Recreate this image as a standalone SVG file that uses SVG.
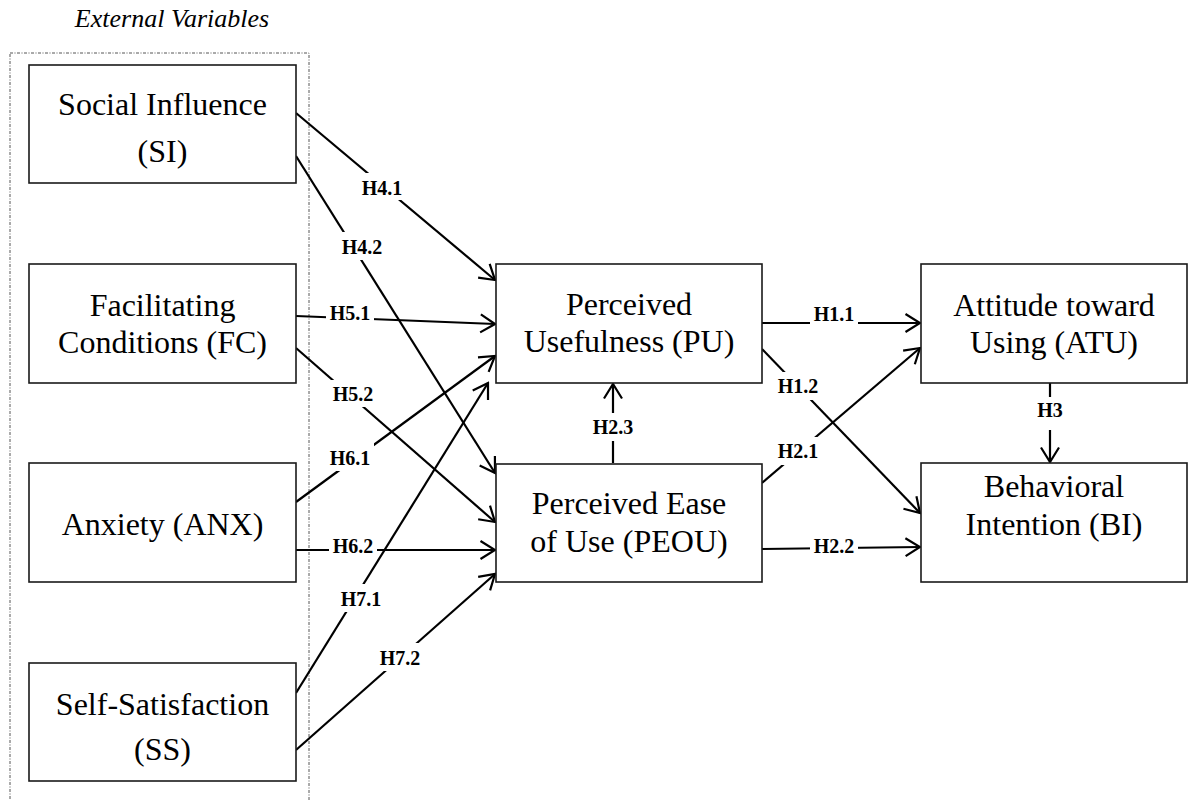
<svg xmlns="http://www.w3.org/2000/svg" width="1193" height="800" viewBox="0 0 1193 800">
<style>
  .box { fill: #fff; stroke: #1a1a1a; stroke-width: 1.6; }
  .nt { font-family: "Liberation Serif", "Times New Roman", serif; font-size: 32px; fill: #000; text-anchor: middle; }
  .lbl { font-family: "Liberation Serif", "Times New Roman", serif; font-size: 20px; font-weight: bold; fill: #000; text-anchor: middle; }
  .edge { stroke: #000; stroke-width: 2.2; fill: none; }
  .arr { marker-end: url(#ah); }
  .lbg { fill: #fff; }
  .title { font-family: "Liberation Serif", "Times New Roman", serif; font-size: 26px; font-style: italic; fill: #000; text-anchor: middle; }
</style>
<defs>
  <marker id="ah" markerUnits="userSpaceOnUse" markerWidth="18" markerHeight="22" viewBox="0 0 18 22" refX="16" refY="11" orient="auto">
    <path d="M1.5,2 L16,11 L1.5,20" fill="none" stroke="#000" stroke-width="2.2"/>
  </marker>
</defs>
<rect width="1193" height="800" fill="#fff"/>
<text class="title" x="172" y="27">External Variables</text>
<rect id="external-group" x="10" y="53" width="299" height="760" fill="none" stroke="#555" stroke-width="1" stroke-dasharray="3 1.5 1 1.5"/>

<g id="connectors">
  <line class="edge arr" x1="296" y1="113" x2="495" y2="280"/>
  <line class="edge arr" x1="296" y1="156" x2="495" y2="473"/>
  <line class="edge arr" x1="296" y1="316" x2="495" y2="324"/>
  <line class="edge arr" x1="296" y1="348" x2="495" y2="522"/>
  <line class="edge arr" x1="296" y1="502" x2="495" y2="356"/>
  <line class="edge arr" x1="296" y1="550" x2="495" y2="550"/>
  <line class="edge arr" x1="296" y1="693" x2="488" y2="383"/>
  <line class="edge arr" x1="296" y1="750" x2="495" y2="574"/>
  <line class="edge arr" x1="613" y1="463" x2="613" y2="384"/>
  <line class="edge arr" x1="762" y1="323" x2="920" y2="323"/>
  <line class="edge arr" x1="762" y1="349" x2="920" y2="513"/>
  <line class="edge arr" x1="762" y1="483" x2="920" y2="348"/>
  <line class="edge arr" x1="762" y1="549" x2="920" y2="547"/>
  <line class="edge arr" x1="1050" y1="383" x2="1050" y2="462"/>
</g>

<g id="labels">
  <rect class="lbg" x="359" y="173" width="47" height="27"/><text class="lbl" x="382" y="195">H4.1</text>
  <rect class="lbg" x="338" y="232" width="48" height="28"/><text class="lbl" x="362" y="254">H4.2</text>
  <rect class="lbg" x="326" y="302" width="48" height="24"/><text class="lbl" x="350" y="320">H5.1</text>
  <rect class="lbg" x="329" y="380" width="48" height="27"/><text class="lbl" x="353" y="401">H5.2</text>
  <rect class="lbg" x="326" y="443" width="48" height="28"/><text class="lbl" x="350" y="465">H6.1</text>
  <rect class="lbg" x="329" y="535" width="48" height="24"/><text class="lbl" x="353" y="553">H6.2</text>
  <rect class="lbg" x="337" y="584" width="48" height="28"/><text class="lbl" x="361" y="606">H7.1</text>
  <rect class="lbg" x="376" y="643" width="48" height="28"/><text class="lbl" x="400" y="665">H7.2</text>
  <rect class="lbg" x="589" y="413" width="48" height="28"/><text class="lbl" x="613" y="434">H2.3</text>
  <rect class="lbg" x="810" y="303" width="48" height="24"/><text class="lbl" x="834" y="321">H1.1</text>
  <rect class="lbg" x="774" y="372" width="48" height="28"/><text class="lbl" x="798" y="393">H1.2</text>
  <rect class="lbg" x="774" y="437" width="48" height="28"/><text class="lbl" x="798" y="458">H2.1</text>
  <rect class="lbg" x="810" y="535" width="48" height="24"/><text class="lbl" x="834" y="553">H2.2</text>
  <rect class="lbg" x="1036" y="397" width="28" height="33"/><text class="lbl" x="1050" y="417">H3</text>
</g>

<g id="SI">
  <rect class="box" x="29" y="65" width="267" height="118"/>
  <text class="nt" x="162.5" y="115">Social Influence</text>
  <text class="nt" x="162.5" y="162">(SI)</text>
</g>
<g id="FC">
  <rect class="box" x="29" y="264" width="267" height="119"/>
  <text class="nt" x="162.5" y="316">Facilitating</text>
  <text class="nt" x="162.5" y="353">Conditions (FC)</text>
</g>
<g id="ANX">
  <rect class="box" x="29" y="463" width="267" height="119"/>
  <text class="nt" x="162.5" y="535">Anxiety (ANX)</text>
</g>
<g id="SS">
  <rect class="box" x="29" y="663" width="267" height="118"/>
  <text class="nt" x="162.5" y="715">Self-Satisfaction</text>
  <text class="nt" x="162.5" y="760">(SS)</text>
</g>
<g id="PU">
  <rect class="box" x="496" y="264" width="266" height="119"/>
  <text class="nt" x="629" y="315">Perceived</text>
  <text class="nt" x="629" y="352">Usefulness (PU)</text>
</g>
<g id="PEOU">
  <rect class="box" x="496" y="464" width="266" height="118"/>
  <text class="nt" x="629" y="514">Perceived Ease</text>
  <text class="nt" x="629" y="552">of Use (PEOU)</text>
</g>
<g id="ATU">
  <rect class="box" x="921" y="264" width="266" height="119"/>
  <text class="nt" x="1054" y="316">Attitude toward</text>
  <text class="nt" x="1054" y="353">Using (ATU)</text>
</g>
<g id="BI">
  <rect class="box" x="921" y="463" width="266" height="119"/>
  <text class="nt" x="1054" y="497">Behavioral</text>
  <text class="nt" x="1054" y="535">Intention (BI)</text>
</g>
</svg>
